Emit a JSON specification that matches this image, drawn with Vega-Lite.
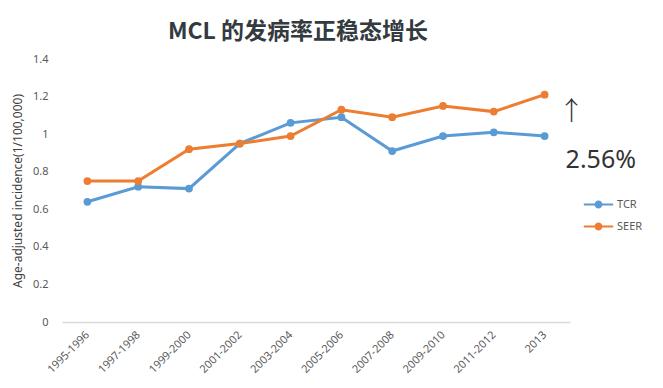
{
  "$schema": "https://vega.github.io/schema/vega-lite/v6.json",
  "width": 508,
  "height": 263,
  "autosize": {"type": "none"},
  "padding": {"left": 62, "top": 59, "right": 93, "bottom": 66},
  "background": "white",
  "title": {
    "text": "MCL 的发病率正稳态增长",
    "font": "Noto Sans CJK SC",
    "fontSize": 23,
    "fontWeight": "bold",
    "color": "#333a40",
    "anchor": "middle",
    "frame": "group",
    "dx": -18,
    "offset": 9
  },
  "config": {
    "view": {"stroke": null},
    "font": "Noto Sans",
    "axis": {"labelFont": "Noto Sans", "titleFont": "Noto Sans", "labelColor": "#595959", "titleColor": "#404040"}
  },
  "datasets": {
    "series": [
      {"period": "1995-1996", "series": "TCR", "value": 0.64},
      {"period": "1997-1998", "series": "TCR", "value": 0.72},
      {"period": "1999-2000", "series": "TCR", "value": 0.71},
      {"period": "2001-2002", "series": "TCR", "value": 0.95},
      {"period": "2003-2004", "series": "TCR", "value": 1.06},
      {"period": "2005-2006", "series": "TCR", "value": 1.09},
      {"period": "2007-2008", "series": "TCR", "value": 0.91},
      {"period": "2009-2010", "series": "TCR", "value": 0.99},
      {"period": "2011-2012", "series": "TCR", "value": 1.01},
      {"period": "2013", "series": "TCR", "value": 0.99},
      {"period": "1995-1996", "series": "SEER", "value": 0.75},
      {"period": "1997-1998", "series": "SEER", "value": 0.75},
      {"period": "1999-2000", "series": "SEER", "value": 0.92},
      {"period": "2001-2002", "series": "SEER", "value": 0.95},
      {"period": "2003-2004", "series": "SEER", "value": 0.99},
      {"period": "2005-2006", "series": "SEER", "value": 1.13},
      {"period": "2007-2008", "series": "SEER", "value": 1.09},
      {"period": "2009-2010", "series": "SEER", "value": 1.15},
      {"period": "2011-2012", "series": "SEER", "value": 1.12},
      {"period": "2013", "series": "SEER", "value": 1.21}
    ],
    "arrow": [{"period": "2013", "value": 1.12, "label": "↑"}],
    "pct": [{"period": "2013", "value": 0.86, "label": "2.56%"}]
  },
  "encoding": {
    "x": {
      "field": "period",
      "type": "ordinal",
      "sort": null,
      "scale": {"type": "point", "padding": 0.5},
      "axis": {
        "title": null,
        "labelAngle": -45,
        "labelAlign": "right",
        "labelBaseline": "middle",
        "labelPadding": 11,
        "labelFontSize": 11,
        "ticks": false,
        "domainColor": "#d9d9d9",
        "domainWidth": 1.5,
        "grid": false
      }
    },
    "y": {
      "field": "value",
      "type": "quantitative",
      "scale": {"domain": [0, 1.4]},
      "axis": {
        "title": "Age-adjusted  incidence(1/100,000)",
        "titleFontSize": 12,
        "titleFontWeight": "normal",
        "titleX": -38,
        "format": ".1~f",
        "values": [0, 0.2, 0.4, 0.6, 0.8, 1, 1.2, 1.4],
        "labelFontSize": 11,
        "labelPadding": 14,
        "ticks": false,
        "domain": false,
        "grid": false
      }
    }
  },
  "layer": [
    {
      "data": {"name": "series"},
      "mark": {"type": "line", "strokeWidth": 3, "point": {"filled": true, "size": 60}},
      "encoding": {
        "color": {
          "field": "series",
          "type": "nominal",
          "scale": {"domain": ["TCR", "SEER"], "range": ["#5b9bd5", "#ed7d31"]},
          "legend": {
            "title": null,
            "orient": "none",
            "legendX": 526,
            "legendY": 135,
            "labelFont": "Noto Sans",
            "labelFontSize": 11,
            "labelColor": "#595959",
            "labelOffset": 8,
            "rowPadding": 6,
            "symbolType": "M-1.4,-0.1 H1.4 V0.1 H-1.4 Z M0.38,0 A0.38,0.38 0 1,1 -0.38,0 A0.38,0.38 0 1,1 0.38,0 Z",
            "symbolSize": 440,
            "symbolStrokeWidth": 0,
            "symbolOpacity": 1
          }
        }
      }
    },
    {
      "data": {"name": "arrow"},
      "mark": {"type": "text", "align": "center", "baseline": "middle", "font": "Noto Sans CJK SC", "fontWeight": 300, "fontSize": 26, "color": "#333333", "dx": 27},
      "encoding": {"text": {"field": "label"}}
    },
    {
      "data": {"name": "pct"},
      "mark": {"type": "text", "align": "left", "baseline": "middle", "font": "Noto Sans", "fontSize": 25, "color": "#333333", "dx": 21},
      "encoding": {"text": {"field": "label"}}
    }
  ]
}
